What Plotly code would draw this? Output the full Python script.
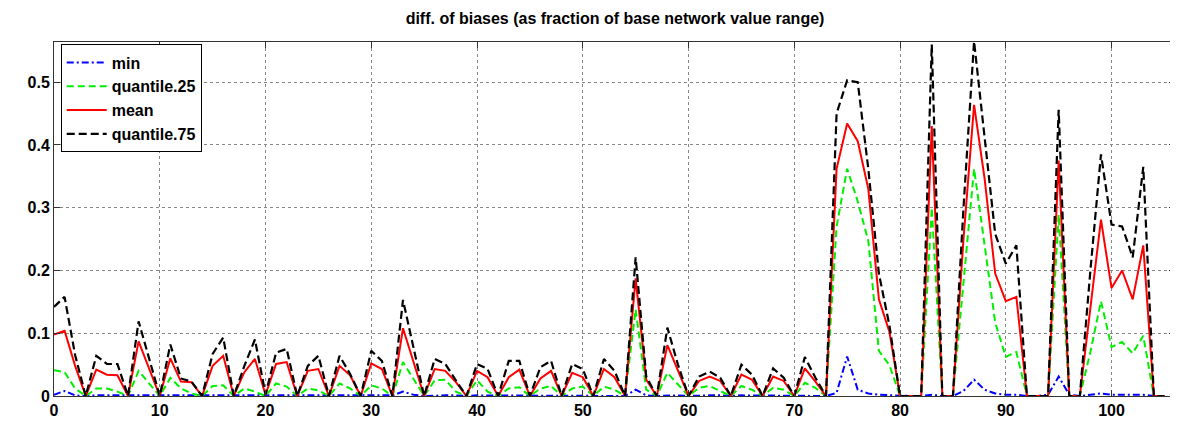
import plotly.graph_objects as go

x_index = list(range(106))

q75 = [0.142, 0.158, 0.065, 0, 0.064, 0.051, 0.051, 0, 0.119, 0.059,
       0, 0.082, 0.028, 0.023, 0, 0.067, 0.093, 0, 0.048, 0.090,
       0.003, 0.069, 0.075, 0, 0.048, 0.064, 0, 0.064, 0.035, 0,
       0.072, 0.056, 0, 0.153, 0.075, 0, 0.059, 0.051, 0.025, 0,
       0.051, 0.043, 0, 0.056, 0.056, 0, 0.046, 0.056, 0, 0.051,
       0.043, 0, 0.059, 0.040, 0, 0.221, 0.031, 0, 0.109, 0.050,
       0, 0.031, 0.039, 0.029, 0, 0.050, 0.034, 0, 0.044, 0.029,
       0, 0.062, 0.029, 0, 0.450, 0.503, 0.500, 0.362, 0.195, 0.112,
       0, 0, 0, 0.560, 0, 0, 0.300, 0.565, 0.414, 0.258,
       0.211, 0.240, 0, 0, 0, 0.456, 0, 0, 0.200, 0.385,
       0.273, 0.270, 0.221, 0.365, 0, 0]

mean = [0.098, 0.104, 0.048, 0, 0.042, 0.034, 0.033, 0, 0.087, 0.043,
        0, 0.060, 0.023, 0.022, 0, 0.048, 0.064, 0, 0.038, 0.059,
        0.002, 0.051, 0.054, 0, 0.040, 0.043, 0, 0.048, 0.033, 0,
        0.052, 0.043, 0, 0.108, 0.053, 0, 0.043, 0.040, 0.022, 0,
        0.040, 0.030, 0, 0.030, 0.042, 0, 0.028, 0.040, 0, 0.037,
        0.030, 0, 0.043, 0.030, 0, 0.1875, 0.026, 0, 0.081, 0.040,
        0, 0.024, 0.031, 0.024, 0, 0.034, 0.026, 0, 0.031, 0.024,
        0, 0.044, 0.023, 0, 0.362, 0.434, 0.406, 0.330, 0.154, 0.102,
        0, 0, 0, 0.430, 0, 0, 0.250, 0.464, 0.346, 0.195,
        0.151, 0.158, 0, 0, 0, 0.375, 0, 0, 0.140, 0.281,
        0.172, 0.200, 0.154, 0.240, 0, 0]

q25 = [0.041, 0.038, 0.012, 0, 0.012, 0.012, 0.007, 0, 0.040, 0.020,
       0, 0.029, 0.012, 0.004, 0, 0.016, 0.017, 0, 0.012, 0.007,
       0, 0.020, 0.015, 0, 0.012, 0.009, 0, 0.020, 0.012, 0,
       0.017, 0.012, 0, 0.054, 0.026, 0, 0.025, 0.026, 0.007, 0,
       0.025, 0.007, 0, 0.012, 0.014, 0, 0.012, 0.016, 0, 0.012,
       0.015, 0, 0.015, 0.010, 0, 0.138, 0.010, 0, 0.037, 0.018,
       0, 0.013, 0.016, 0.008, 0, 0.016, 0.010, 0, 0.013, 0.010,
       0, 0.021, 0.013, 0, 0.270, 0.362, 0.310, 0.247, 0.072, 0.049,
       0, 0, 0, 0.300, 0, 0, 0.180, 0.362, 0.240, 0.117,
       0.0625, 0.070, 0, 0, 0, 0.289, 0, 0, 0.070, 0.151,
       0.078, 0.086, 0.068, 0.096, 0, 0]

vmin = [0.002, 0.008, 0.001, 0, 0.001, 0.001, 0.001, 0, 0.001, 0.001,
        0, 0.001, 0.001, 0.001, 0, 0.001, 0.001, 0, 0.001, 0.001,
        0, 0.001, 0.001, 0, 0.001, 0.001, 0, 0.001, 0.001, 0,
        0.001, 0.001, 0.001, 0.007, 0.002, 0, 0.001, 0.001, 0.001, 0,
        0.001, 0.001, 0, 0.001, 0.001, 0, 0.001, 0.001, 0, 0.001,
        0.001, 0, 0.001, 0.001, 0, 0.010, 0.001, 0, 0.001, 0.001,
        0, 0.001, 0.001, 0.001, 0, 0.001, 0.001, 0, 0.001, 0.001,
        0, 0.001, 0.001, 0, 0.005, 0.063, 0.010, 0.004, 0.002, 0.001,
        0, 0, 0, 0.002, 0, 0, 0.008, 0.026, 0.010, 0.004,
        0.002, 0.002, 0, 0, 0.002, 0.031, 0.002, 0, 0.002, 0.004,
        0.002, 0.002, 0.002, 0.002, 0, 0]

x_ticks = list(range(0, 101, 10))
y_ticks = [0, 0.1, 0.2, 0.3, 0.4, 0.5]
y_tick_text = ["0", "0.1", "0.2", "0.3", "0.4", "0.5"]

title_text = "diff. of biases (as fraction of base network value range)"
series_names = ["min", "quantile.25", "mean", "quantile.75"]

fig = go.Figure()
fig.add_trace(go.Scatter(x=x_index, y=vmin, name="<b>%s</b>" % series_names[0], mode="lines",
                         line=dict(color="#0000ff", width=2, dash="7px,3px,2px,3px")))
fig.add_trace(go.Scatter(x=x_index, y=q25, name="<b>%s</b>" % series_names[1], mode="lines",
                         line=dict(color="#00ee00", width=2, dash="7px,4px")))
fig.add_trace(go.Scatter(x=x_index, y=mean, name="<b>%s</b>" % series_names[2], mode="lines",
                         line=dict(color="#ff0000", width=2)))
fig.add_trace(go.Scatter(x=x_index, y=q75, name="<b>%s</b>" % series_names[3], mode="lines",
                         line=dict(color="#000000", width=2.2, dash="8px,4px")))

axis_font = dict(family="Liberation Sans, Arial, sans-serif", size=16, color="#000000")

fig.update_layout(
    width=1178, height=421,
    margin=dict(l=46, r=10, t=34, b=26),
    paper_bgcolor="white", plot_bgcolor="white",
    title=dict(text="<b>" + title_text + "</b>", x=0.5153, xanchor="center",
               y=0.975, yanchor="middle",
               font=dict(family="Liberation Sans, Arial, sans-serif", size=16, color="#000")),
    showlegend=True,
    legend=dict(x=0.006, y=0.993, xanchor="left", yanchor="top",
                bgcolor="white", bordercolor="#000", borderwidth=1,
                font=dict(family="Liberation Sans, Arial, sans-serif", size=16, color="#000"),
                tracegroupgap=0, itemwidth=40),
    xaxis=dict(range=[0, 106], tickmode="array", tickvals=x_ticks,
               ticktext=["<b>%d</b>" % v for v in x_ticks],
               ticks="inside", ticklen=6, tickcolor="#333", showline=True,
               linecolor="#333", linewidth=1, mirror="ticks",
               showgrid=True, gridcolor="#888", griddash="dot", gridwidth=1,
               zeroline=False, tickfont=axis_font),
    yaxis=dict(range=[0, 0.564], tickmode="array", tickvals=y_ticks,
               ticktext=["<b>%s</b>" % t for t in y_tick_text],
               ticks="inside", ticklen=6, tickcolor="#333", showline=True,
               linecolor="#333", linewidth=1, mirror="ticks",
               showgrid=True, gridcolor="#888", griddash="dot", gridwidth=1,
               zeroline=False, tickfont=axis_font),
)

fig.write_html("out.html")
